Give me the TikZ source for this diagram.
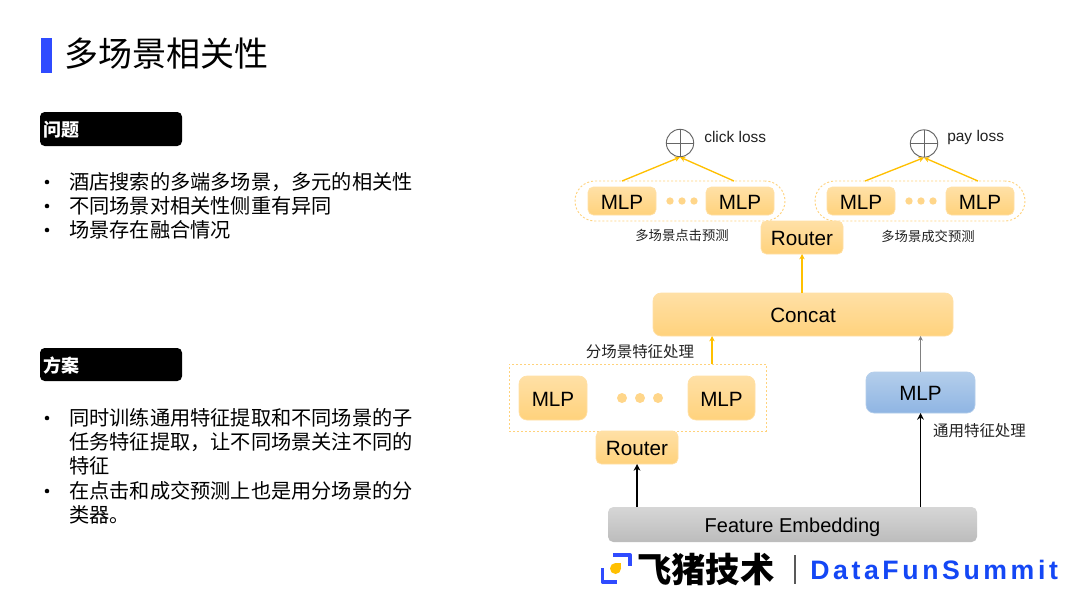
\documentclass[tikz,border=0pt]{standalone}
\usepackage{fontspec}
\setmainfont{Liberation Sans}
\newfontfamily\cjk{Noto Sans CJK SC}
\usetikzlibrary{arrows.meta}
\definecolor{orangeT}{HTML}{FFE0A6}
\definecolor{orangeB}{HTML}{FFD27C}
\definecolor{orangeL}{HTML}{FFC000}
\definecolor{dashO}{HTML}{FFD27C}
\definecolor{dotO}{HTML}{FFD68A}
\definecolor{blueT}{HTML}{B4CEEB}
\definecolor{blueB}{HTML}{8FB5E3}
\definecolor{greyT}{HTML}{D6D6D6}
\definecolor{greyB}{HTML}{BCBCBC}
\definecolor{barblue}{HTML}{2F4BFF}
\definecolor{funblue}{HTML}{1447F5}
\definecolor{txt}{HTML}{222222}
\newcommand\pbox[7]{\node[#2,inner sep=0pt,outer sep=0pt,minimum width={(#5-#3)*0.75pt},minimum height={(#6-#4)*0.75pt}] (#1) at ({(#3+#5)/2},{(#4+#6)/2}) {#7};}
\tikzset{
 x=0.75pt,y=-0.75pt,
 obox/.style={rounded corners=4pt,top color=orangeT,bottom color=orangeB,draw=orangeT,line width=0.5pt,font=\fontsize{15.5}{18}\selectfont,text=black,text height=13pt,text depth=1pt},
 obig/.style={obox,rounded corners=6pt},
 bbox/.style={rounded corners=6pt,top color=blueT,bottom color=blueB,draw=blueT,line width=0.5pt,font=\fontsize{15.5}{18}\selectfont,text=black,text height=13pt,text depth=1pt},
 gbox/.style={rounded corners=4pt,top color=greyT,bottom color=greyB,font=\fontsize{15}{18}\selectfont,text=black,text height=13pt,text depth=1pt},
 pill/.style={draw=dashO,dash pattern=on 1.5pt off 1.5pt,line width=0.7pt,rounded corners=15pt},
 frame/.style={draw=dashO,dash pattern=on 1.5pt off 1.5pt,line width=0.7pt},
 adot/.style={circle,fill=dotO,inner sep=0pt,minimum size=#1},
 aline/.style={line width=1pt,orangeL,-{Stealth[length=4pt,width=4pt]}},
 kline/.style={line width=1pt,black,-{Stealth[length=5pt,width=5pt]}},
 gline/.style={line width=0.6pt,gray,-{Stealth[length=3.5pt,width=3.5pt]}},
 lossc/.style={circle,draw=gray!80!black,line width=0.7pt,minimum size=20.5pt,inner sep=0pt,
   path picture={\draw[gray!80!black,line width=0.7pt] (path picture bounding box.north)--(path picture bounding box.south) (path picture bounding box.west)--(path picture bounding box.east);}},
 captxt/.style={font=\cjk\fontsize{10}{12}\selectfont,text=txt,inner sep=0pt},
 capbig/.style={font=\cjk\fontsize{11.6}{14}\selectfont,text=txt,inner sep=0pt},
 losst/.style={font=\fontsize{11.6}{14}\selectfont,text=txt,inner sep=0pt},
 head/.style={fill=black,rounded corners=3.5pt},
 headt/.style={font=\cjk\bfseries\fontsize{13.5}{16}\selectfont,text=white,inner sep=0pt,anchor=west},
 body/.style={font=\cjk\fontsize{15.15}{18}\selectfont,text=black,inner sep=0pt,anchor=west},
 bull/.style={circle,fill=black,inner sep=0pt,minimum size=3.4pt},
}
\begin{document}
\begin{tikzpicture}
\path[use as bounding box,fill=white] (0,0) rectangle (1080,608);
% left column
\pbox{bar}{fill=barblue}{41}{38}{52}{73}{}
\node[font=\cjk\fontsize{25.5}{30}\selectfont,text=black,inner sep=0pt,anchor=west] (title) at (64,54) {多场景相关性};
\pbox{h1}{head}{40}{112}{182}{146}{}
\node[headt] (h1t) at (43,130) {问题};
\pbox{h2}{head}{40}{348}{182}{381}{}
\node[headt] (h2t) at (43,366) {方案};
\node[bull] (b1) at (47,182) {}; \node[body] (t1) at (69,182) {酒店搜索的多端多场景，多元的相关性};
\node[bull] (b2) at (47,206) {}; \node[body] (t2) at (69,206) {不同场景对相关性侧重有异同};
\node[bull] (b3) at (47,230) {}; \node[body] (t3) at (69,230) {场景存在融合情况};
\node[bull] (b4) at (47,418) {}; \node[body] (t4) at (69,418) {同时训练通用特征提取和不同场景的子};
\node[body] (t5) at (69,442) {任务特征提取，让不同场景关注不同的};
\node[body] (t6) at (69,466) {特征};
\node[bull] (b5) at (47,491) {}; \node[body] (t7) at (69,491) {在点击和成交预测上也是用分场景的分};
\node[body] (t8) at (69,515) {类器。};
% top groups
\pbox{p1}{pill}{575}{181}{785}{221}{}
\pbox{p2}{pill}{815}{181}{1025}{221}{}
\pbox{m1}{obox}{588}{187}{656}{215}{MLP}
\pbox{m2}{obox}{706}{187}{774}{215}{MLP}
\pbox{m3}{obox}{827}{187}{895}{215}{MLP}
\pbox{m4}{obox}{946}{187}{1014}{215}{MLP}
\node[adot=5.5pt] (d1) at (670,201) {}; \node[adot=5.5pt] (d2) at (682,201) {}; \node[adot=5.5pt] (d3) at (694,201) {};
\node[adot=5.5pt] (d4) at (909,201) {}; \node[adot=5.5pt] (d5) at (921,201) {}; \node[adot=5.5pt] (d6) at (933,201) {};
\node[lossc] (c1) at (680,143) {};
\node[lossc] (c2) at (924,143.5) {};
\node[losst,anchor=west] (l1) at (704,136.5) {click loss};
\node[losst,anchor=west] (l2) at (947,137.5) {pay loss};
\coordinate (s1) at (622,181); \coordinate (s2) at (734,181);
\coordinate (s3) at (865,181); \coordinate (s4) at (978,181);
\draw[aline] (s1) -- (c1.south);
\draw[aline] (s2) -- (c1.south);
\draw[aline] (s3) -- (c2.south);
\draw[aline] (s4) -- (c2.south);
\node[captxt] (cap1) at (682,235) {多场景点击预测};
\node[captxt] (cap2) at (928,236) {多场景成交预测};
\pbox{r1}{obox}{761}{221}{843}{254}{Router}
\pbox{con}{obig}{653}{293}{953}{336}{Concat}
\draw[aline] (con.north -| r1.south) -- (r1.south);
% lower left
\pbox{fr}{frame}{509}{364}{766}{431}{}
\pbox{m5}{obig}{519}{376}{587}{420}{MLP}
\pbox{m6}{obig}{688}{376}{755}{420}{MLP}
\node[adot=7.5pt] (d7) at (622,398) {}; \node[adot=7.5pt] (d8) at (640,398) {}; \node[adot=7.5pt] (d9) at (658,398) {};
\pbox{r2}{obox}{596}{431}{678}{464}{Router}
\node[capbig] (cap3) at (640,352) {分场景特征处理};
\coordinate (s5) at (712,364);
\draw[aline] (s5) -- (s5 |- con.south);
% lower right
\pbox{m7}{bbox}{866}{372}{975}{413}{MLP}
\node[capbig] (cap4) at (979.5,431) {通用特征处理};
\pbox{fe}{gbox}{608}{507}{977}{542}{Feature Embedding}
\draw[kline] (r2.south |- fe.north) -- (r2.south);
\draw[kline] (m7.south |- fe.north) -- (m7.south);
\draw[gline] (m7.north) -- (m7.north |- con.south);
% logo
\draw[barblue,line width=2.5pt,line join=round] (602.5,568) -- (602.5,582) -- (617,582);
\draw[barblue,line width=2.5pt,line join=round] (613,555) -- (630,555) -- (630,566);
\fill[orangeL] (615.5,568.5) circle (5.5);
\fill[orangeL] (615.5,563) rectangle (621,568.5);
\node[font=\cjk\bfseries\fontsize{25.7}{28}\selectfont,text=black,inner sep=0pt,anchor=west] (logo) at (637,569) {飞猪技术};
\draw[gray!70!black,line width=0.8pt] (795,555) -- (795,584);
\node[font=\bfseries\fontsize{20}{24}\selectfont,text=funblue,inner sep=0pt,anchor=west] (df) at (810,570) {\addfontfeature{LetterSpace=13.5}DataFunSummit};
\end{tikzpicture}
\end{document}
